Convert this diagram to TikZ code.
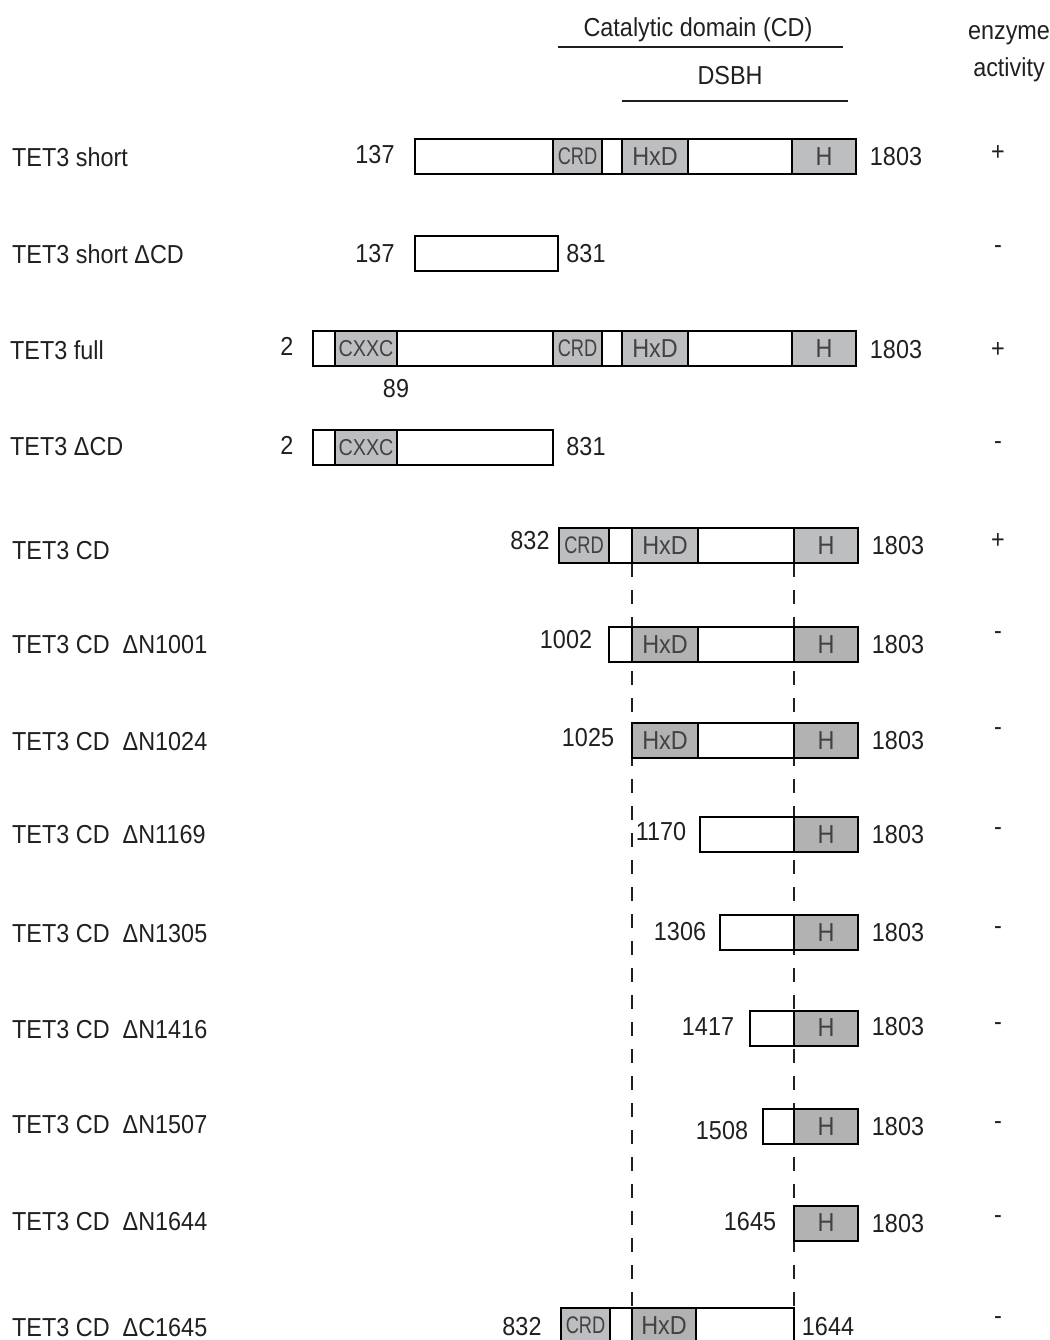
\documentclass[tikz,border=0pt]{standalone}
\usepackage{fontspec}
\setmainfont{Liberation Sans}
\newfontfamily\txtfont[FakeStretch=0.9]{Liberation Sans}
\newfontfamily\crdfont[FakeStretch=0.76]{Liberation Sans}
\newfontfamily\cxxcfont[FakeStretch=0.86]{Liberation Sans}
\definecolor{gA}{RGB}{188,190,192}
\definecolor{gB}{RGB}{178,178,178}
\definecolor{ink}{RGB}{35,31,32}
\newcommand\tetseg[7]{%
  \filldraw[fill=#5, draw=black, line width=2pt] (#2,#4-17.5) rectangle (#3,#4+17.5);
  \node[#6] (#1) at ({(#2+#3)/2},#4) {#7};}
\begin{document}
\begin{tikzpicture}[x=1pt,y=-1pt,
  txt/.style={inner sep=0pt, text=ink, font=\txtfont\fontsize{26}{30}\selectfont},
  lbl/.style={txt, anchor=west},
  num/.style={txt},
  act/.style={txt},
  big/.style={inner sep=0pt, text=ink!85, font=\txtfont\fontsize{26}{30}\selectfont},
  small/.style={inner sep=0pt, text=ink!85, font=\crdfont\fontsize{24}{28}\selectfont},
  smallc/.style={inner sep=0pt, text=ink!85, font=\cxxcfont\fontsize{23}{27}\selectfont},
  empty/.style={inner sep=0pt},
  dashline/.style={line width=1.3pt, dash pattern=on 14pt off 13pt, ink},
  hline/.style={line width=1.2pt, ink}]
\useasboundingbox (0,0) rectangle (1049,1340);

% header
\node[txt] (cdtitle) at (698,30) {Catalytic domain (CD)};
\coordinate (cdA) at (558,47); \coordinate (cdB) at (843,47);
\draw[hline] (cdA) -- (cdB);
\node[txt] (dsbh) at (730,76) {DSBH};
\coordinate (dsA) at (622,101); \coordinate (dsB) at (848,101);
\draw[hline] (dsA) -- (dsB);
\node[txt] (enz) at (1009,35) {enzyme};
\node[txt] (actv) at (1009,70) {activity};

% dashed guide lines
\coordinate (gl1) at (632,563); \coordinate (gl2) at (632,1308);
\coordinate (gr1) at (794,563); \coordinate (gr2) at (794,1308);
\draw[dashline] (gl1) -- (gl2);
\draw[dashline] (gr1) -- (gr2);

% Row 1: TET3 short
\node[lbl] (l1) at (12,157) {TET3 short};
\tetseg{a1}{415}{553}{156.5}{white}{empty}{}
\tetseg{a2}{553}{602}{156.5}{gA}{small}{CRD}
\tetseg{a3}{602}{622}{156.5}{white}{empty}{}
\tetseg{a4}{622}{688}{156.5}{gA}{big}{HxD}
\tetseg{a5}{688}{792}{156.5}{white}{empty}{}
\tetseg{a6}{792}{856}{156.5}{gA}{big}{H}
\node[num] (n1a) at (375,155) {137};
\node[num] (n1b) at (896,157) {1803};
\node[act] (p1) at (998,153) {+};

% Row 2: TET3 short dCD
\node[lbl] (l2) at (12,254) {TET3 short ΔCD};
\tetseg{b1}{415}{558}{253.5}{white}{empty}{}
\node[num] (n2a) at (375,254) {137};
\node[num] (n2b) at (586,254) {831};
\node[act] (p2) at (998,250) {-};

% Row 3: TET3 full
\node[lbl] (l3) at (10,350) {TET3 full};
\tetseg{c1}{313}{335}{348.5}{white}{empty}{}
\tetseg{c2}{335}{397}{348.5}{gA}{smallc}{CXXC}
\tetseg{c3}{397}{553}{348.5}{white}{empty}{}
\tetseg{c4}{553}{602}{348.5}{gA}{small}{CRD}
\tetseg{c5}{602}{622}{348.5}{white}{empty}{}
\tetseg{c6}{622}{688}{348.5}{gA}{big}{HxD}
\tetseg{c7}{688}{792}{348.5}{white}{empty}{}
\tetseg{c8}{792}{856}{348.5}{gA}{big}{H}
\node[num] (n3a) at (287,346) {2};
\node[num] (n3c) at (396,389) {89};
\node[num] (n3b) at (896,350) {1803};
\node[act] (p3) at (998,350) {+};

% Row 4: TET3 dCD
\node[lbl] (l4) at (10,447) {TET3 ΔCD};
\tetseg{d1}{313}{335}{447.5}{white}{empty}{}
\tetseg{d2}{335}{397}{447.5}{gA}{smallc}{CXXC}
\tetseg{d3}{397}{553}{447.5}{white}{empty}{}
\node[num] (n4a) at (287,445) {2};
\node[num] (n4b) at (586,447) {831};
\node[act] (p4) at (998,446) {-};

% Row 5: TET3 CD
\node[lbl] (l5) at (12,551) {TET3 CD};
\tetseg{e1}{559}{609}{545.5}{gA}{small}{CRD}
\tetseg{e2}{609}{632}{545.5}{white}{empty}{}
\tetseg{e3}{632}{698}{545.5}{gA}{big}{HxD}
\tetseg{e4}{698}{794}{545.5}{white}{empty}{}
\tetseg{e5}{794}{858}{545.5}{gA}{big}{H}
\node[num] (n5a) at (530,541) {832};
\node[num] (n5b) at (898,546) {1803};
\node[act] (p5) at (998,541) {+};

% Row 6: dN1001
\node[lbl] (l6) at (12,645) {TET3 CD\ \ ΔN1001};
\tetseg{f1}{609}{632}{644.5}{white}{empty}{}
\tetseg{f2}{632}{698}{644.5}{gB}{big}{HxD}
\tetseg{f3}{698}{794}{644.5}{white}{empty}{}
\tetseg{f4}{794}{858}{644.5}{gB}{big}{H}
\node[num] (n6a) at (566,640) {1002};
\node[num] (n6b) at (898,645) {1803};
\node[act] (p6) at (998,636) {-};

% Row 7: dN1024
\node[lbl] (l7) at (12,742) {TET3 CD\ \ ΔN1024};
\tetseg{g1}{632}{698}{740.5}{gB}{big}{HxD}
\tetseg{g2}{698}{794}{740.5}{white}{empty}{}
\tetseg{g3}{794}{858}{740.5}{gB}{big}{H}
\node[num] (n7a) at (588,738) {1025};
\node[num] (n7b) at (898,741) {1803};
\node[act] (p7) at (998,732) {-};

% Row 8: dN1169
\node[lbl] (l8) at (12,835) {TET3 CD\ \ ΔN1169};
\tetseg{h1}{700}{794}{834.5}{white}{empty}{}
\tetseg{h2}{794}{858}{834.5}{gB}{big}{H}
\node[num] (n8a) at (661,832) {1170};
\node[num] (n8b) at (898,835) {1803};
\node[act] (p8) at (998,832) {-};

% Row 9: dN1305
\node[lbl] (l9) at (12,934) {TET3 CD\ \ ΔN1305};
\tetseg{i1}{720}{794}{932.5}{white}{empty}{}
\tetseg{i2}{794}{858}{932.5}{gB}{big}{H}
\node[num] (n9a) at (680,932) {1306};
\node[num] (n9b) at (898,933) {1803};
\node[act] (p9) at (998,931) {-};

% Row 10: dN1416
\node[lbl] (l10) at (12,1030) {TET3 CD\ \ ΔN1416};
\tetseg{j1}{750}{794}{1028}{white}{empty}{}
\tetseg{j2}{794}{858}{1028}{gB}{big}{H}
\node[num] (n10a) at (708,1027) {1417};
\node[num] (n10b) at (898,1027) {1803};
\node[act] (p10) at (998,1027) {-};

% Row 11: dN1507
\node[lbl] (l11) at (12,1125) {TET3 CD\ \ ΔN1507};
\tetseg{k1}{763}{794}{1126.5}{white}{empty}{}
\tetseg{k2}{794}{858}{1126.5}{gB}{big}{H}
\node[num] (n11a) at (722,1131) {1508};
\node[num] (n11b) at (898,1127) {1803};
\node[act] (p11) at (998,1126) {-};

% Row 12: dN1644
\node[lbl] (l12) at (12,1222) {TET3 CD\ \ ΔN1644};
\tetseg{m1}{794}{858}{1223}{gB}{big}{H}
\node[num] (n12a) at (750,1222) {1645};
\node[num] (n12b) at (898,1224) {1803};
\node[act] (p12) at (998,1220) {-};

% Row 13: dC1645
\node[lbl] (l13) at (12,1328) {TET3 CD\ \ ΔC1645};
\tetseg{q1}{561}{610}{1325.5}{gA}{small}{CRD}
\tetseg{q2}{610}{632}{1325.5}{white}{empty}{}
\tetseg{q3}{632}{696}{1325.5}{gB}{big}{HxD}
\tetseg{q4}{696}{794}{1325.5}{white}{empty}{}
\node[num] (n13a) at (522,1327) {832};
\node[num] (n13b) at (828,1327) {1644};
\node[act] (p13) at (998,1321) {-};
\end{tikzpicture}
\end{document}
